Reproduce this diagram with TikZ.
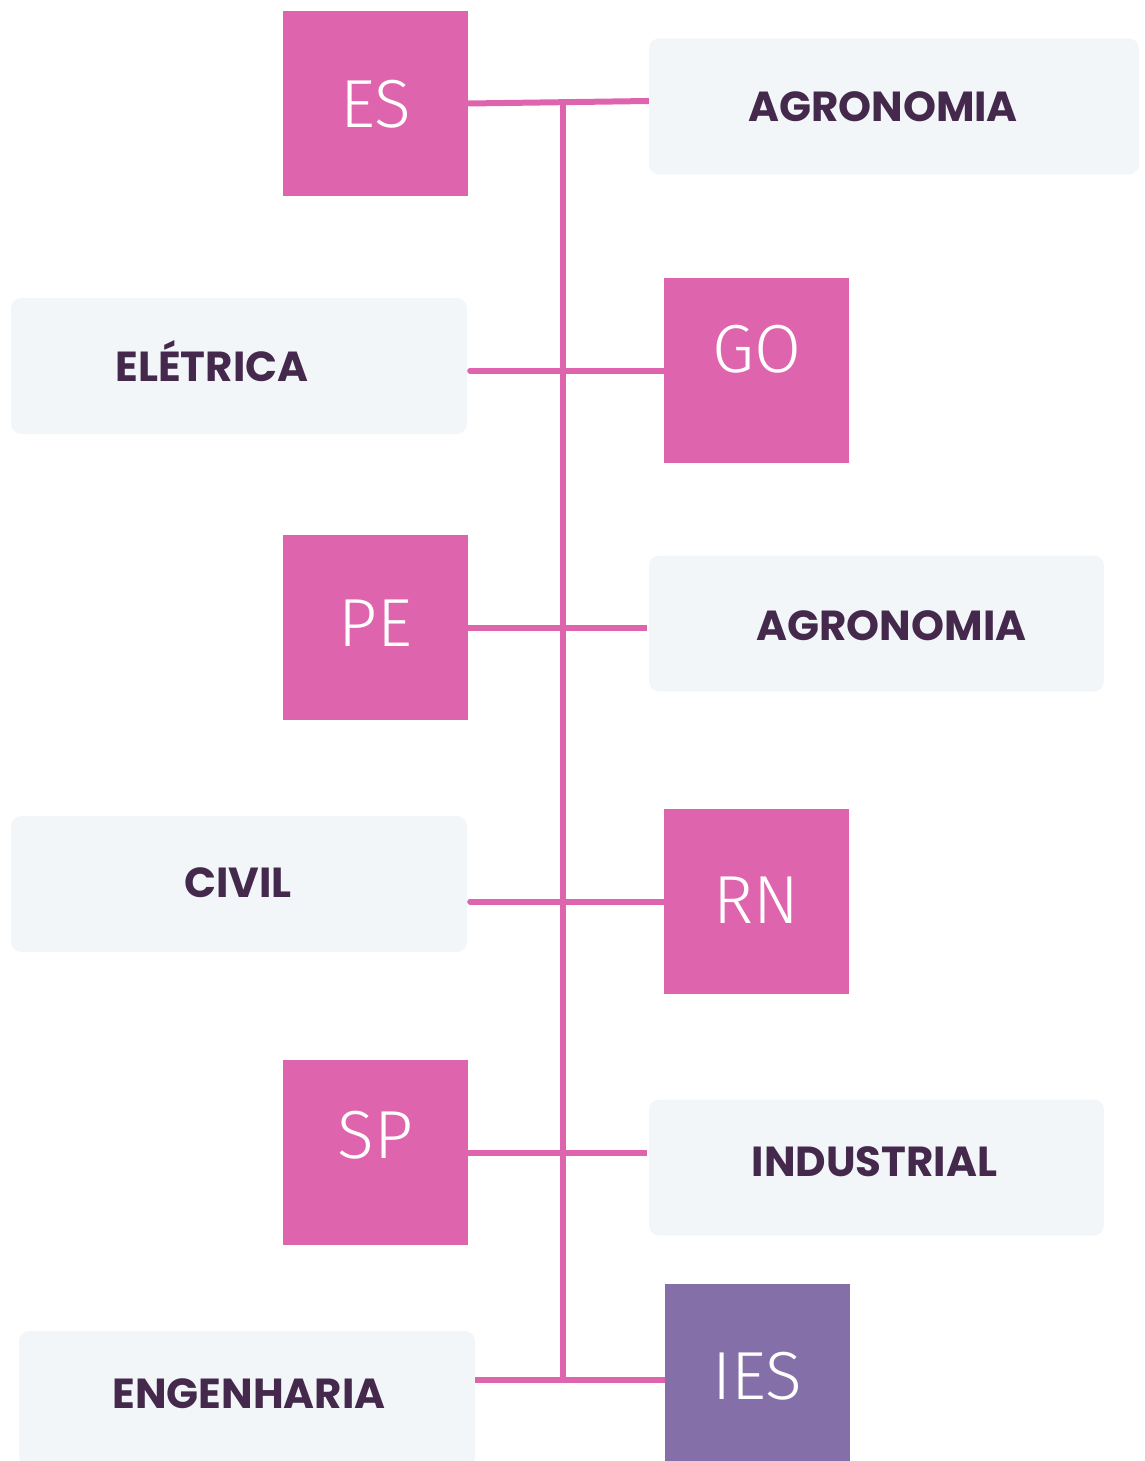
\documentclass[tikz,border=0pt]{standalone}
\usepackage{fontspec}
\newfontfamily\boldfont{Poppins}[UprightFont=* Bold]
\newfontfamily\lightfont{Fira Sans Light}
\definecolor{rosa}{HTML}{DE65AD}
\definecolor{roxo}{HTML}{856FA8}
\definecolor{cinza}{HTML}{F3F6F9}
\definecolor{escuro}{HTML}{45294D}
\tikzset{
  uf/.style={rectangle, fill=rosa, minimum width=185, minimum height=185, inner sep=0},
  sigla/.style={text=white, inner sep=0, text height=46, text depth=0,
    font=\lightfont\fontsize{68}{68}\selectfont},
  curso/.style={rectangle, rounded corners=10, fill=cinza, minimum height=136, inner sep=0},
  rotulo/.style={text=escuro, inner sep=0, text height=29, text depth=0,
    font=\boldfont\fontsize{42}{42}\selectfont},
  ligacao/.style={rosa, line width=6}
}
\begin{document}
\begin{tikzpicture}[x=1pt, y=-1pt]
\useasboundingbox (0,0) rectangle (1145,1461);
\begin{scope}
\clip (0,0) rectangle (1145,1461);
% tronco
\coordinate (topo) at (563,101);
\coordinate (base) at (563,1380);
\draw[ligacao] (topo) -- (base);
% estados
\node[uf] (es) at (375.5,103.5){};
\node[sigla] at ([yshift=-1.5]es.center){ES};
\node[uf] (go) at (756.5,370.5){};
\node[sigla] at ([yshift=21.5]go.center){GO};
\node[uf] (pe) at (375.5,627.5){};
\node[sigla] at ([yshift=4.5]pe.center){PE};
\node[uf] (rn) at (756.5,901.5){};
\node[sigla] at ([yshift=1.5]rn.center){RN};
\node[uf] (sp) at (375.5,1152.5){};
\node[sigla] at ([yshift=17.5]sp.center){SP};
\node[uf, fill=roxo] (ies) at (757.5,1376.5){};
\node[sigla] at ([yshift=0.5]ies.center){IES};
% cursos
\node[curso, minimum width=490] (agro1) at (894,106.5){};
\node[rotulo] at ([xshift=-11, yshift=-0.5]agro1.center){AGRONOMIA};
\node[curso, minimum width=456] (eletrica) at (239,366){};
\node[rotulo] at ([xshift=-27, yshift=-1]eletrica.center){ELÉTRICA};
\node[curso, minimum width=455] (agro2) at (876.5,623.5){};
\node[rotulo] at ([xshift=15, yshift=-2.5]agro2.center){AGRONOMIA};
\node[curso, minimum width=456] (civil) at (239,884){};
\node[rotulo] at ([xshift=-1, yshift=1]civil.center){CIVIL};
\node[curso, minimum width=455] (industrial) at (876.5,1167.5){};
\node[rotulo] at ([xshift=-2, yshift=5.5]industrial.center){INDUSTRIAL};
\node[curso, minimum width=456] (engenharia) at (247,1399){};
\node[rotulo] at ([xshift=2, yshift=5]engenharia.center){ENGENHARIA};
% ligacoes
\draw[ligacao] (es.east) -- (agro1.west |- topo);
\draw[ligacao, line cap=round] ([xshift=3]eletrica.east |- go.west) -- (go.west);
\draw[ligacao] (pe.east) -- ([xshift=-2]agro2.west |- pe.east);
\draw[ligacao, line cap=round] ([xshift=3]civil.east |- rn.west) -- (rn.west);
\draw[ligacao] (sp.east) -- ([xshift=-2]industrial.west |- sp.east);
\draw[ligacao] (engenharia.east |- base) -- (ies.west |- base);
\end{scope}
\end{tikzpicture}
\end{document}
